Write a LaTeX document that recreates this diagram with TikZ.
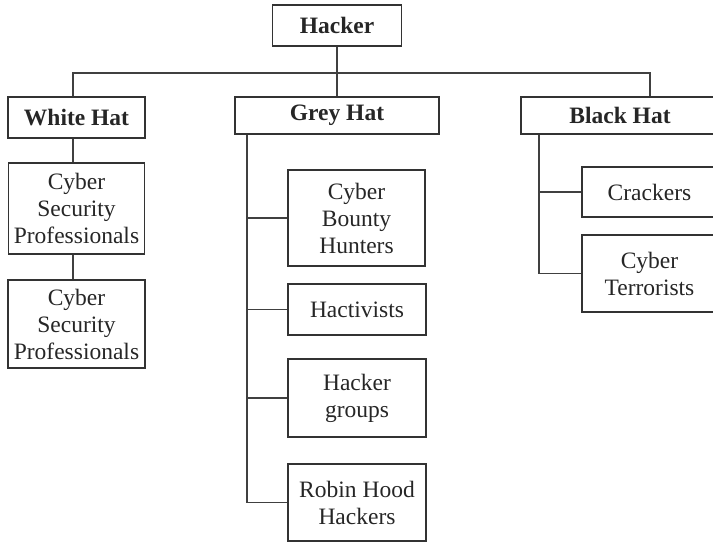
\documentclass[tikz,border=0pt]{standalone}
\usepackage{fontspec}
\setmainfont{Liberation Serif}
\begin{document}
\begin{tikzpicture}[x=1pt,y=-1pt,
  box/.style={draw=black!80,line width=1.1pt,text=black!85,align=center,inner sep=0pt,
    font=\fontsize{23.5}{27}\selectfont},
  hat/.style={box,font=\fontsize{23.5}{27}\selectfont\bfseries},
  conn/.style={draw=black!75,line width=1.1pt}]
\useasboundingbox (0,0) rectangle (713,542);
\clip (0,0) rectangle (713,542);
% top level
\node[hat,minimum width=129pt,minimum height=41pt] (hacker) at (337,25.5) {Hacker};
\node[hat,minimum width=137pt,minimum height=41pt] (white) at (76.5,117.5) {White Hat};
\node[hat,minimum width=204pt,minimum height=37pt] (grey) at (337,115.5) {Grey Hat};
\node[hat,minimum width=198pt,minimum height=37pt] (black) at (620,115.5) {Black Hat};
% white hat column
\node[box,minimum width=136pt,minimum height=91pt] (cs1) at (76.5,208.5) {Cyber\\Security\\Professionals};
\node[box,minimum width=137pt,minimum height=88pt] (cs2) at (76.5,324) {Cyber\\Security\\Professionals};
% grey hat column
\node[box,minimum width=137pt,minimum height=96pt] (cbh) at (356.5,218) {Cyber\\Bounty\\Hunters};
\node[box,minimum width=138pt,minimum height=51pt] (hact) at (357,309.5) {Hactivists};
\node[box,minimum width=138pt,minimum height=78pt] (hg) at (357,398) {Hacker\\groups};
\node[box,minimum width=138pt,minimum height=77pt] (rh) at (357,502.5) {Robin Hood\\Hackers};
% black hat column
\node[box,minimum width=135pt,minimum height=50pt] (cr) at (649.5,192) {Crackers};
\node[box,minimum width=135pt,minimum height=77pt] (ct) at (649.5,273.5) {Cyber\\Terrorists};
% connectors
\coordinate (bus) at (337,73);
\draw[conn] (hacker.south) -- (grey.north);
\draw[conn] ([xshift=-3.5pt]white.north) |- (bus) -| ([xshift=30pt]black.north);
\draw[conn] ([xshift=-3.5pt]white.south) -- ([xshift=-3.5pt]cs1.north);
\draw[conn] ([xshift=-3.5pt]cs1.south) -- ([xshift=-3.5pt]cs2.north);
\coordinate (gtrunk) at ([xshift=-90pt]grey.south);
\draw[conn] (gtrunk) |- (rh.west);
\draw[conn] (cbh.west) -- (cbh.west -| gtrunk);
\draw[conn] (hact.west) -- (hact.west -| gtrunk);
\draw[conn] (hg.west) -- (hg.west -| gtrunk);
\coordinate (btrunk) at ([xshift=-81pt]black.south);
\draw[conn] (btrunk) |- (ct.west);
\draw[conn] (cr.west) -- (cr.west -| btrunk);
\end{tikzpicture}
\end{document}
